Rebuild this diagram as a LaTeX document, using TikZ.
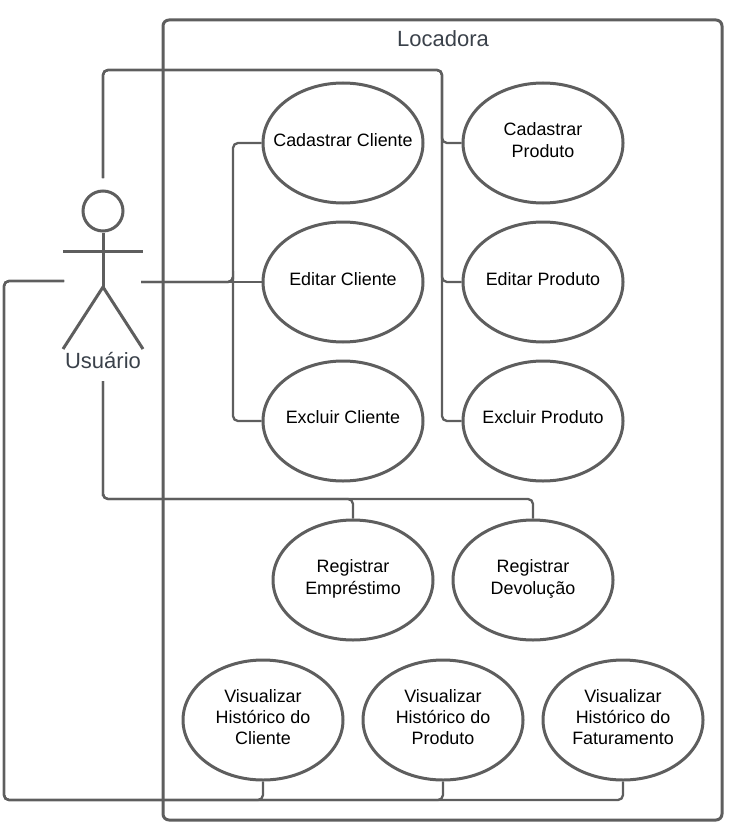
\documentclass[tikz,border=0pt]{standalone}
\usepackage{fontspec}
\setmainfont{Liberation Sans}
\definecolor{linegray}{HTML}{5E5E5E}
\definecolor{labelgray}{HTML}{3A414A}
\usetikzlibrary{shapes.geometric}
\tikzset{
  usecase/.style={draw=linegray,line width=3pt,ellipse,minimum width=160pt,minimum height=120pt,inner sep=0pt},
  uctext/.style={align=center,font=\fontsize{17.9}{21.3}\selectfont,text=black,inner sep=0pt},
  conn/.style={draw=linegray,line width=2.3pt,rounded corners=5pt},
  actorline/.style={draw=linegray,line width=3pt},
  biglabel/.style={text=labelgray,font=\fontsize{22}{26}\selectfont,inner sep=0pt}
}
\begin{document}
\begin{tikzpicture}[x=1pt,y=-1pt]
\useasboundingbox (0,0) rectangle (743,840);
% use cases
\node[usecase,label={[uctext,yshift=3pt,name=tcc]center:Cadastrar Cliente}] (cc) at (343,143) {};
\node[usecase,label={[uctext,yshift=3pt,name=tec]center:Editar Cliente}] (ec) at (343,282) {};
\node[usecase,label={[uctext,yshift=4pt,name=txc]center:Excluir Cliente}] (xc) at (343,421) {};
\node[usecase,label={[uctext,yshift=3pt,name=tcp]center:Cadastrar\\Produto}] (cp) at (543,143) {};
\node[usecase,label={[uctext,yshift=3pt,name=tep]center:Editar Produto}] (ep) at (543,282) {};
\node[usecase,label={[uctext,yshift=4pt,name=txp]center:Excluir Produto}] (xp) at (543,421) {};
\node[usecase,label={[uctext,yshift=1pt,name=tre]center:Registrar\\Empréstimo}] (re) at (353,580) {};
\node[usecase,label={[uctext,yshift=1pt,name=trd]center:Registrar\\Devolução}] (rd) at (533,580) {};
\node[usecase,label={[uctext,yshift=3pt,name=tvc]center:Visualizar\\Histórico do\\Cliente}] (vc) at (263,720) {};
\node[usecase,label={[uctext,yshift=3pt,name=tvp]center:Visualizar\\Histórico do\\Produto}] (vp) at (443,720) {};
\node[usecase,label={[uctext,yshift=3pt,name=tvf]center:Visualizar\\Histórico do\\Faturamento}] (vf) at (623,720) {};
% actor
\node[circle,draw=linegray,line width=3pt,minimum size=40pt,inner sep=0pt] (head) at (103,211) {};
\coordinate (armL) at (63,251);
\coordinate (armR) at (143,251);
\coordinate (hip) at (103,287);
\coordinate (legL) at (63,349);
\coordinate (legR) at (143,349);
\draw[actorline] (head.south) -- (hip);
\draw[actorline] (armL) -- (armR);
\draw[actorline] (legL) -- (hip) -- (legR);
\node[biglabel] (user) at (103,361) {Usuário};
% connector ends
\coordinate (aTop) at (103,178);
\coordinate (aBot) at (103,381);
\coordinate (aLeft) at (64,281);
\coordinate (aRight) at (141,282);
\coordinate (busL) at (233,282);
\coordinate (busT) at (442,70);
\coordinate (busB) at (103,499);
\coordinate (busV) at (4,800);
% right of actor to client use cases
\draw[conn] (aRight) -- (ec.west);
\draw[conn] (aRight) -| (busL) |- (cc.west);
\draw[conn] (aRight) -| (busL) |- (xc.west);
% top bus to product use cases
\draw[conn] (aTop) |- (busT) |- (cp.west);
\draw[conn] (aTop) |- (busT) |- (ep.west);
\draw[conn] (aTop) |- (busT) |- (xp.west);
% bottom bus
\draw[conn] (aBot) |- (busB) -| (re.north);
\draw[conn] (aBot) |- (busB) -| (rd.north);
% left bus
\draw[conn] (aLeft) -| (busV) -| (vc.south);
\draw[conn] (aLeft) -| (busV) -| (vp.south);
\draw[conn] (aLeft) -| (busV) -| (vf.south);
% frame
\node[draw=linegray,line width=3pt,rounded corners=6pt,minimum width=559pt,minimum height=800pt,inner sep=0pt] (frame) at (442.5,420) {};
\node[biglabel] (title) at (443,39) {Locadora};
\end{tikzpicture}
\end{document}
